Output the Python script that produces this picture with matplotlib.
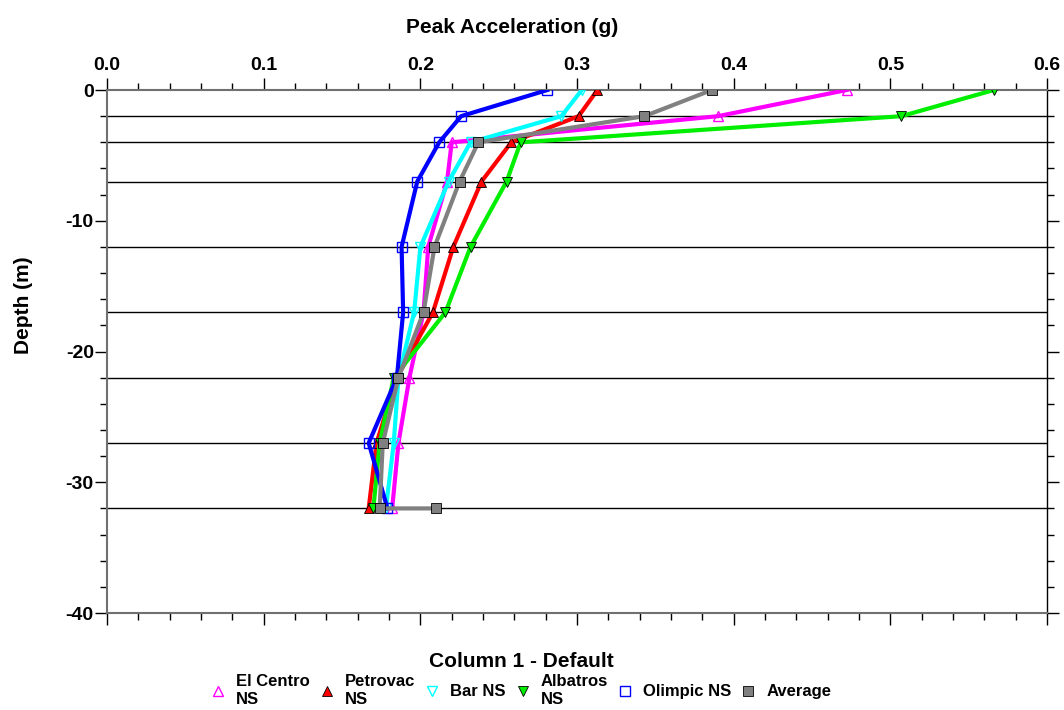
import matplotlib.pyplot as plt
from matplotlib.ticker import MultipleLocator

plt.rcParams['font.family'] = ['Liberation Sans', 'DejaVu Sans']
plt.rcParams['font.weight'] = 'bold'
plt.rcParams['axes.unicode_minus'] = False

depth = [0, -2, -4, -7, -12, -17, -22, -27, -32]
layers = [-2, -4, -7, -12, -17, -22, -27, -32]

el_centro = [0.472, 0.390, 0.220, 0.217, 0.205, 0.202, 0.193, 0.186, 0.182]
petrovac = [0.313, 0.301, 0.258, 0.239, 0.221, 0.208, 0.185, 0.172, 0.167]
bar = [0.303, 0.290, 0.232, 0.218, 0.200, 0.196, 0.186, 0.183, 0.178]
albatros = [0.566, 0.507, 0.264, 0.255, 0.232, 0.216, 0.183, 0.174, 0.170]
olimpic = [0.281, 0.226, 0.212, 0.198, 0.188, 0.189, 0.185, 0.167, 0.179]
average = [0.386, 0.343, 0.237, 0.225, 0.209, 0.202, 0.186, 0.176, 0.174, 0.210]
avg_depth = depth + [-32]

fig = plt.figure(figsize=(10.64, 7.10), dpi=100)
ax = fig.add_axes([0.1006, 0.1366, 0.8835, 0.7366])

for y in layers:
    ax.axhline(y, color='black', lw=1.0, zorder=1)

lw = 3.0
ax.plot(el_centro, depth, color='#ff00ff', lw=lw, marker='^', ms=7,
        mfc='none', mec='#ff00ff', label='El Centro\nNS', zorder=3)
ax.plot(petrovac, depth, color='#ff0000', lw=lw, marker='^', ms=7,
        mfc='#ff0000', mec='black', mew=0.6, label='Petrovac\nNS', zorder=3)
ax.plot(bar, depth, color='#00ffff', lw=lw, marker='v', ms=7,
        mfc='none', mec='#00ffff', label='Bar NS', zorder=3)
ax.plot(albatros, depth, color='#00ee00', lw=lw, marker='v', ms=7,
        mfc='#00ee00', mec='black', mew=0.6, label='Albatros\nNS', zorder=3)
ax.plot(olimpic, depth, color='#0000ff', lw=lw, marker='s', ms=7,
        mfc='none', mec='#0000ff', label='Olimpic NS', zorder=3)
ax.plot(average, avg_depth, color='#808080', lw=lw, marker='s', ms=7,
        mfc='#808080', mec='black', mew=0.6, label='Average', zorder=4)

ax.set_xlim(0, 0.6)
ax.set_ylim(-40, 0)
ax.xaxis.set_major_locator(MultipleLocator(0.1))
ax.xaxis.set_minor_locator(MultipleLocator(0.02))
ax.yaxis.set_major_locator(MultipleLocator(10))
ax.yaxis.set_minor_locator(MultipleLocator(2))
ax.xaxis.set_major_formatter(plt.FormatStrFormatter('%.1f'))

ax.xaxis.tick_top()
ax.xaxis.set_label_position('top')
ax.tick_params(axis='both', which='both', top=True, bottom=True, left=True,
               right=True, direction='out', labelsize=14, width=1.0)
ax.tick_params(axis='x', which='major', length=8.5, pad=3)
ax.tick_params(axis='x', which='minor', length=5)
ax.tick_params(axis='y', which='major', length=8.5, pad=1)
ax.tick_params(axis='y', which='minor', length=5)
for s in ax.spines.values():
    s.set_color('#707070')
    s.set_linewidth(1.5)
ax.spines['right'].set_color('black')
ax.spines['right'].set_linewidth(1.0)

ax.set_xlabel('Peak Acceleration (g)', fontsize=15, fontweight='bold')
ax.xaxis.set_label_coords(0.431, 1.109)
ax.set_ylabel('Depth (m)', fontsize=15, fontweight='bold')
ax.yaxis.set_label_coords(-0.0787, 0.589)

leg = fig.legend(loc='upper center', bbox_to_anchor=(0.49, 0.096), ncol=6,
                 frameon=False, fontsize=12, title='Column 1 - Default',
                 title_fontproperties={'size': 15, 'weight': 'bold'},
                 handlelength=0.8, handletextpad=0.7, columnspacing=0.6,
                 labelspacing=0.2, borderpad=0.1)
for h in leg.legend_handles:
    h.set_linestyle('none')

fig.savefig('out.png', dpi=100)
